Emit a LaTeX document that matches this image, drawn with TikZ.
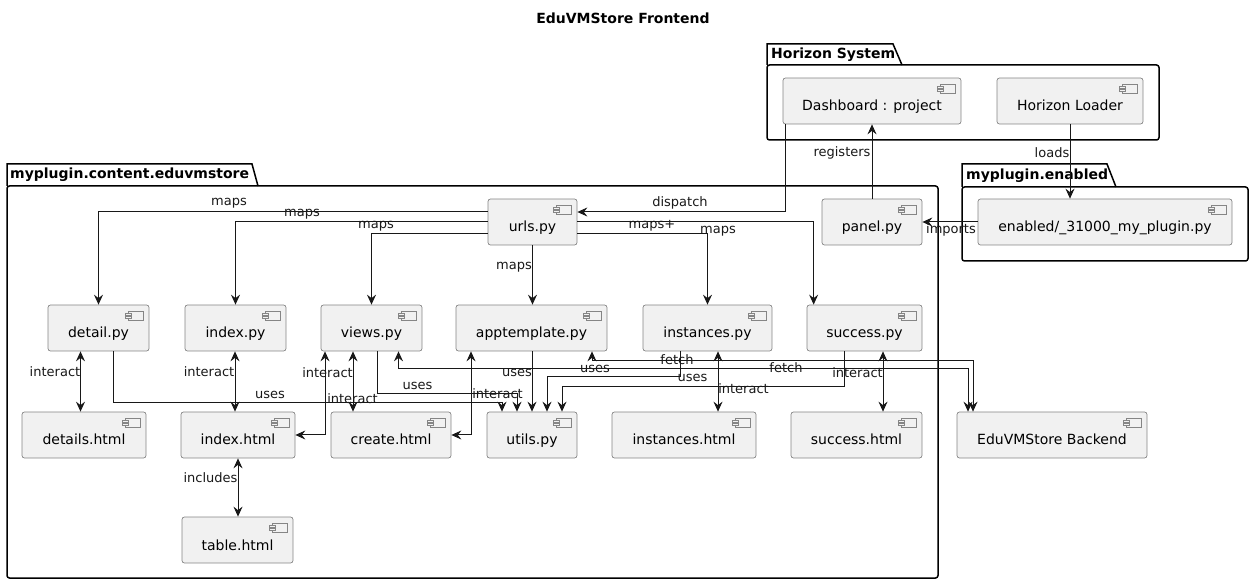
\documentclass[tikz,border=0pt]{standalone}
\usepackage{fontspec}
\setmainfont{DejaVu Sans}
\usetikzlibrary{arrows.meta,calc}
\definecolor{compfill}{HTML}{F1F1F1}
\definecolor{compline}{HTML}{858585}
\definecolor{linkcol}{HTML}{181818}
\begin{document}
\begin{tikzpicture}[x=1pt,y=-1pt,>={Stealth[length=10pt,width=9pt,inset=3.5pt]}]
    \tikzset{
        comp/.style={draw=compline,fill=compfill,line width=0.7pt,rounded corners=2.5pt,
            minimum height=46pt,inner sep=0pt,text height=20pt,text depth=0pt,
            font=\fontsize{14}{16}\selectfont,
            path picture={
                \draw[compline,line width=0.6pt,sharp corners] ([xshift=-21pt,yshift=-6pt]path picture bounding box.north east) rectangle ++(15pt,-9pt);
                \draw[compline,line width=0.6pt,sharp corners,fill=compfill] ([xshift=-24pt,yshift=-8pt]path picture bounding box.north east) rectangle ++(6pt,-2pt);
                \draw[compline,line width=0.6pt,sharp corners,fill=compfill] ([xshift=-24pt,yshift=-11.5pt]path picture bounding box.north east) rectangle ++(6pt,-2pt);
            }},
        pkg/.style={draw=black,line width=1.5pt},
        pkgname/.style={font=\fontsize{14}{16}\selectfont\bfseries,anchor=west,inner sep=0pt},
        lbl/.style={font=\fontsize{13}{15}\selectfont,inner sep=0pt,text=linkcol},
        link/.style={draw=linkcol,line width=1pt}
    }
    \useasboundingbox (0,0) rectangle (1254,585);

    \node[font=\fontsize{14}{16}\selectfont\bfseries] (title) at (623,18) {EduVMStore Frontend};

    \draw[pkg,rounded corners=2.5pt] (767,65) rectangle (1159,140);
    \draw[pkg] (767,65) -- (767,44) -- (893,44) -- (902,65);
    \node[pkgname] (hsys) at (771,55) {Horizon System};

    \draw[pkg,rounded corners=2.5pt] (962,187) rectangle (1248,261);
    \draw[pkg] (962,187) -- (962,164) -- (1107,164) -- (1116,187);
    \node[pkgname] (enpkg) at (966,176) {myplugin.enabled};

    \draw[pkg,rounded corners=2.5pt] (7,186) rectangle (938,578);
    \draw[pkg] (7,186) -- (7,164) -- (252,164) -- (258,186);
    \node[pkgname] (contpkg) at (10,175) {myplugin.content.eduvmstore};

    \node[comp,minimum width=178pt] (dash) at (872,101) {Dashboard : project};
    \node[comp,minimum width=146pt] (loader) at (1070,101) {Horizon Loader};
    \node[comp,minimum width=254pt] (enabled) at (1105,222) {enabled/\_31000\_my\_plugin.py};

    \node[comp,minimum width=89pt] (urls) at (532.5,222) {urls.py};
    \node[comp,minimum width=100pt] (panel) at (872,222) {panel.py};

    \node[comp,minimum width=101pt] (detail) at (98.5,328) {detail.py};
    \node[comp,minimum width=101pt] (indexpy) at (235.5,328) {index.py};
    \node[comp,minimum width=101pt] (views) at (371.5,328) {views.py};
    \node[comp,minimum width=151pt] (apptpl) at (531.5,328) {apptemplate.py};
    \node[comp,minimum width=129pt] (instpy) at (707.5,328) {instances.py};
    \node[comp,minimum width=115pt] (succpy) at (864.5,328) {success.py};

    \node[comp,minimum width=124pt] (detailshtml) at (84,435) {details.html};
    \node[comp,minimum width=114pt] (indexhtml) at (238,435) {index.html};
    \node[comp,minimum width=120pt] (createhtml) at (391,435) {create.html};
    \node[comp,minimum width=90pt] (utils) at (532,435) {utils.py};
    \node[comp,minimum width=144pt] (insthtml) at (684,435) {instances.html};
    \node[comp,minimum width=131pt] (succhtml) at (856.5,435) {success.html};
    \node[comp,minimum width=190pt] (backend) at (1052,435) {EduVMStore Backend};

    \node[comp,minimum width=111pt] (tablehtml) at (237.5,540) {table.html};

    \draw[link,->] ([xshift=3pt]dash.south west) |- ([yshift=10pt]urls.east) node[lbl] (l-dispatch) at (680,203) {dispatch};
    \draw[link,->] (panel.north) -- (dash.south) node[lbl] (l-registers) at (842,153) {registers};
    \draw[link,->] (loader.south) -- (loader.south |- enabled.north) node[lbl] (l-loads) at (1052,153) {loads};
    \draw[link,->] (enabled.west) -- (panel.east) node[lbl] (l-imports) at (951,230) {imports};

    \draw[link,->] ([yshift=10pt]urls.west) -| (detail.north) node[lbl] (l-maps1) at (229,203) {maps};
    \draw[link,->] (urls.west) -| (indexpy.north) node[lbl] (l-maps2) at (302,214) {maps};
    \draw[link,->] ([yshift=-12pt]urls.west) -| (views.north) node[lbl] (l-maps3) at (376,226) {maps};
    \draw[link,->] (urls.south) -- (urls.south |- apptpl.north) node[lbl] (l-maps4) at (514,267) {maps};
    \draw[link,->] (urls.east) -| ([xshift=7pt]succpy.north west) node[lbl] (l-maps5) at (652,226) {maps+};
    \draw[link,->] ([yshift=-12pt]urls.east) -| (instpy.north) node[lbl] (l-maps6) at (718,231) {maps};

    \draw[link,<->] ([xshift=-18pt]detail.south) -- ([xshift=-18pt]detail.south |- detailshtml.north) node[lbl] (l-int1) at (55,372) {interact};
    \draw[link,->] ([xshift=14.5pt]detail.south) |- ([xshift=-30pt,yshift=9pt]utils.north) -- ([xshift=-30pt]utils.north) node[lbl] (l-uses1) at (270,395) {uses};
    \draw[link,<->] ([xshift=-0.5pt]indexpy.south) -- ([xshift=-0.5pt]indexpy.south |- indexhtml.north) node[lbl] (l-int2) at (209,372) {interact};
    \draw[link,<->] ([xshift=-46.5pt]views.south) |- (indexhtml.east) node[lbl] (l-int3) at (327.5,373) {interact};
    \draw[link,<->] ([xshift=-18.5pt]views.south) -- ([xshift=-18.5pt]views.south |- createhtml.north) node[lbl] (l-int4) at (352.5,399) {interact};
    \draw[link,->] ([xshift=5.5pt]views.south) |- ([xshift=-15pt,yshift=18pt]utils.north) -- ([xshift=-15pt]utils.north) node[lbl] (l-uses2) at (417.5,386) {uses};
    \draw[link,<->] ([xshift=27pt]views.south) |- ([xshift=-84pt,yshift=43pt]backend.north) -- ([xshift=-84pt]backend.north) node[lbl] (l-fetch1) at (786,368) {fetch};
    \draw[link,<->] ([xshift=-60.5pt]apptpl.south) |- (createhtml.east) node[lbl] (l-int5) at (497.5,394) {interact};
    \draw[link,->] ([xshift=0.5pt]apptpl.south) -- ([xshift=0.5pt]apptpl.south |- utils.north) node[lbl] (l-uses3) at (517,373) {uses};
    \draw[link,<->] ([xshift=60.5pt]apptpl.south) |- ([xshift=-79pt,yshift=51pt]backend.north) -- ([xshift=-79pt]backend.north) node[lbl] (l-fetch2) at (677,360) {fetch};
    \draw[link,->] ([xshift=-27.5pt]instpy.south) |- ([xshift=15pt,yshift=35pt]utils.north) -- ([xshift=15pt]utils.north) node[lbl] (l-uses4) at (692.5,378) {uses};
    \draw[link,<->] ([xshift=10.5pt]instpy.south) -- ([xshift=10.5pt]instpy.south |- insthtml.north) node[lbl] (l-int6) at (743.5,389) {interact};
    \draw[link,->] ([xshift=-20.5pt]succpy.south) |- ([xshift=30pt,yshift=25pt]utils.north) -- ([xshift=30pt]utils.north) node[lbl] (l-uses5) at (595,369) {uses};
    \draw[link,<->] ([xshift=18.5pt]succpy.south) -- ([xshift=18.5pt]succpy.south |- succhtml.north) node[lbl] (l-int7) at (857.5,373) {interact};
    \draw[link,<->] (indexhtml.south) -- (indexhtml.south |- tablehtml.north) node[lbl] (l-incl) at (210.5,478) {includes};
\end{tikzpicture}
\end{document}
